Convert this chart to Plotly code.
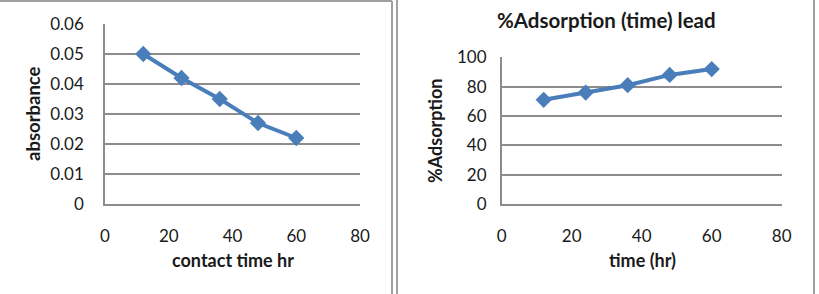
import plotly.graph_objects as go

# Data
time_left = [12, 24, 36, 48, 60]
absorbance = [0.050, 0.042, 0.035, 0.027, 0.022]
time_right = [12, 24, 36, 48, 60]
adsorption = [71, 76, 81, 88, 92]

W, H = 819, 294
blue = "#4A7EBB"
grid = "#8C8C8C"
font = "Lato"
txt = "#1a1a1a"

def px(x):
    return x / W

def py(y):
    return (H - y) / H

fig = go.Figure()
fig.add_trace(go.Scatter(x=time_left, y=absorbance, mode="lines+markers",
                         line=dict(color=blue, width=4),
                         marker=dict(symbol="diamond", size=12.5, color=blue),
                         xaxis="x", yaxis="y", showlegend=False))
fig.add_trace(go.Scatter(x=time_right, y=adsorption, mode="lines+markers",
                         line=dict(color=blue, width=4),
                         marker=dict(symbol="diamond", size=12.5, color=blue),
                         xaxis="x2", yaxis="y2", showlegend=False))

axcommon = dict(showgrid=False, zeroline=False, showline=True, linecolor=grid, linewidth=1.5,
                ticks="", automargin=False, tickfont=dict(family=font, size=17, color=txt))
ycommon = dict(showgrid=True, gridcolor=grid, gridwidth=1.5, zeroline=False, showline=True,
               linecolor=grid, linewidth=1.5, ticks="", automargin=False,
               tickfont=dict(family=font, size=17, color=txt))

fig.update_layout(
    template="none",
    width=W, height=H, margin=dict(l=0, r=0, t=0, b=0, pad=0, autoexpand=False),
    paper_bgcolor="white", plot_bgcolor="white",
    xaxis=dict(domain=[px(105), px(360)], range=[0, 80], dtick=20, anchor="y",
               ticklabelstandoff=16, **axcommon),
    yaxis=dict(domain=[py(204), py(24)], range=[0, 0.06], dtick=0.01, anchor="x",
               ticklabelstandoff=16, tickformat="~g", **ycommon),
    xaxis2=dict(domain=[px(501.7), px(781.7)], range=[0, 80], dtick=20, anchor="y2",
                ticklabelstandoff=16, **axcommon),
    yaxis2=dict(domain=[py(204), py(57.3)], range=[0, 100], dtick=20, anchor="x2",
                ticklabelstandoff=10, **ycommon),
    shapes=[
        dict(type="line", xref="paper", yref="paper", x0=0, x1=px(392), y0=py(1), y1=py(1),
             line=dict(color="#A0A0A0", width=2)),
        dict(type="line", xref="paper", yref="paper", x0=px(392), x1=px(392), y0=py(1), y1=0,
             line=dict(color="#A0A0A0", width=2)),
        dict(type="line", xref="paper", yref="paper", x0=px(397), x1=px(397), y0=1, y1=0,
             line=dict(color="#A0A0A0", width=2)),
        dict(type="line", xref="paper", yref="paper", x0=px(814), x1=px(814), y0=1, y1=0,
             line=dict(color="#A0A0A0", width=2)),
    ],
    annotations=[
        dict(text="<b>absorbance</b>", x=px(33), y=py(114), xref="paper", yref="paper",
             textangle=-90, showarrow=False, font=dict(family=font, size=18.5, color=txt),
             xanchor="center", yanchor="middle"),
        dict(text="<b>contact time hr</b>", x=px(233), y=py(260), xref="paper", yref="paper",
             showarrow=False, font=dict(family=font, size=18, color=txt),
             xanchor="center", yanchor="middle"),
        dict(text="<b>%Adsorption</b>", x=px(435), y=py(131), xref="paper", yref="paper",
             textangle=-90, showarrow=False, font=dict(family=font, size=18, color=txt),
             xanchor="center", yanchor="middle"),
        dict(text="<b>time (hr)</b>", x=px(642), y=py(260), xref="paper", yref="paper",
             showarrow=False, font=dict(family=font, size=18, color=txt),
             xanchor="center", yanchor="middle"),
        dict(text="<b>%Adsorption (time) lead</b>", x=px(606), y=py(20), xref="paper", yref="paper",
             showarrow=False, font=dict(family=font, size=20.5, color=txt),
             xanchor="center", yanchor="middle"),
    ],
)

fig.write_html("out.html")
